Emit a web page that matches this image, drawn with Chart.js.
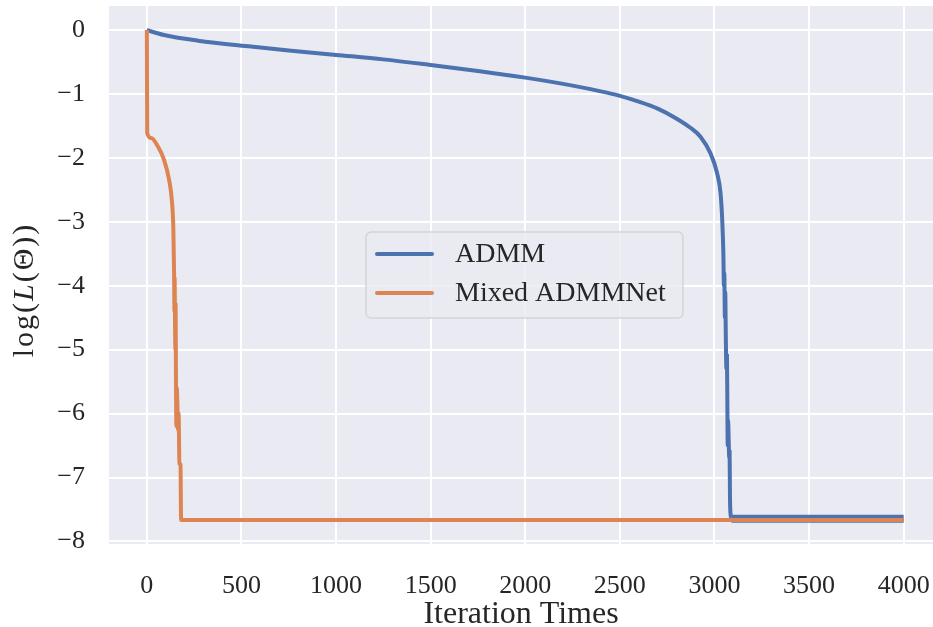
<!DOCTYPE html>
<html>
<head>
<meta charset="utf-8">
<script src="https://cdn.jsdelivr.net/npm/chart.js@4/dist/chart.umd.min.js"></script>
<style>
  html, body { margin: 0; padding: 0; background: #fff; }
  #wrap { width: 933px; height: 627px; }
</style>
</head>
<body>
<div id="wrap"><canvas id="chart"></canvas></div>
<script>
const seriesNames = ['ADMM', 'Mixed ADMMNet'];
const seriesColors = ['#4c72b0', '#dd8452'];

// ADMM: iteration, log loss
const admmIter = [0, 20, 90, 270, 550, 750, 1000, 1250, 1500, 1750, 2000, 2250, 2400, 2500, 2600, 2700, 2796, 2873, 2926, 2979, 3014, 3032, 3041, 3047, 3050, 3052, 3055, 3057, 3060, 3063, 3066, 3068, 3070, 3072, 3075, 3078, 3080, 3082, 3086, 3090, 4000];
const admmLoss = [0, -0.02, -0.078, -0.167, -0.26, -0.32, -0.39, -0.46, -0.547, -0.64, -0.745, -0.87, -0.96, -1.03, -1.12, -1.23, -1.38, -1.53, -1.67, -1.93, -2.24, -2.55, -2.97, -3.49, -4.0, -3.8, -4.5, -4.1, -4.8, -5.3, -5.1, -5.8, -6.5, -6.1, -6.4, -6.7, -6.6, -7.3, -7.6, -7.645, -7.645];

// Mixed ADMMNet
const netIter = [0, 2, 23, 58, 91, 118, 132, 140, 144, 146, 147, 149, 151, 152, 154, 156, 158, 162, 165, 168, 172, 178, 181, 4000];
const netLoss = [0, -1.61, -1.69, -1.82, -2.03, -2.35, -2.66, -3.1, -3.8, -4.4, -3.9, -4.6, -5.0, -4.3, -5.5, -6.2, -5.6, -5.9, -6.25, -6.0, -6.78, -6.8, -7.665, -7.665];

const xTicks = [0, 500, 1000, 1500, 2000, 2500, 3000, 3500, 4000];
const yTicks = [0, -1, -2, -3, -4, -5, -6, -7, -8];

const FONT = '"Liberation Serif", "DejaVu Serif", serif';
const INK = '#262626';

const toPts = (xs, ys) => xs.map((x, i) => ({ x, y: ys[i] }));

const plotBg = {
  id: 'plotBg',
  beforeDraw(chart) {
    const { ctx, chartArea: a } = chart;
    ctx.save();
    ctx.fillStyle = '#eaeaf2';
    ctx.fillRect(a.left, a.top, a.right - a.left, a.bottom - a.top);
    ctx.restore();
  }
};

// y title with italic L, drawn rotated at the left edge
const yTitle = {
  id: 'yTitle',
  afterDraw(chart) {
    const ctx = chart.ctx;
    const parts = [['log(', ''], ['L', 'italic '], ['(\u0398))', '']];
    ctx.save();
    ctx.translate(25, 290);
    ctx.rotate(-Math.PI / 2);
    ctx.fillStyle = INK;
    ctx.textBaseline = 'middle';
    ctx.letterSpacing = '2px';
    let total = 0;
    parts.forEach(([t, st]) => { ctx.font = st + '30px ' + FONT; total += ctx.measureText(t).width; });
    let x = -total / 2;
    parts.forEach(([t, st]) => {
      ctx.font = st + '30px ' + FONT;
      ctx.fillText(t, x, 0);
      x += ctx.measureText(t).width;
    });
    ctx.restore();
  }
};

const boxLegend = {
  id: 'boxLegend',
  afterDatasetsDraw(chart) {
    const ctx = chart.ctx;
    const x = 366, y = 232, w = 317, h = 86, r = 5;
    ctx.save();
    ctx.beginPath();
    ctx.roundRect(x, y, w, h, r);
    ctx.fillStyle = 'rgba(234,234,242,0.8)';
    ctx.fill();
    ctx.strokeStyle = '#d3d3d8';
    ctx.lineWidth = 1.5;
    ctx.stroke();
    ctx.font = '28px ' + FONT;
    ctx.textBaseline = 'middle';
    chart.data.datasets.forEach((ds, i) => {
      const ly = 254 + i * 39;
      ctx.beginPath();
      ctx.moveTo(377, ly);
      ctx.lineTo(432, ly);
      ctx.strokeStyle = ds.borderColor;
      ctx.lineWidth = 4;
      ctx.lineCap = 'round';
      ctx.stroke();
      ctx.fillStyle = INK;
      ctx.fillText(ds.label, 455, ly + 1);
    });
    ctx.restore();
  }
};

new Chart(document.getElementById('chart'), {
  type: 'line',
  data: {
    datasets: [
      {
        label: seriesNames[0],
        data: toPts(admmIter, admmLoss),
        borderColor: seriesColors[0],
        borderWidth: 4,
        pointRadius: 0,
        order: 1,
        cubicInterpolationMode: 'monotone',
        segment: { borderWidth: c => c.p0.parsed.x >= 3090 ? 8 : undefined }
      },
      {
        label: seriesNames[1],
        data: toPts(netIter, netLoss),
        borderColor: seriesColors[1],
        borderWidth: 4,
        pointRadius: 0,
        order: 0,
        cubicInterpolationMode: 'monotone'
      }
    ]
  },
  options: {
    responsive: true,
    maintainAspectRatio: false,
    animation: false,
    layout: { padding: { top: 6, right: 0, left: 0, bottom: 0 } },
    plugins: {
      legend: { display: false },
      tooltip: { enabled: false }
    },
    scales: {
      x: {
        type: 'linear',
        min: -200,
        max: 4155,
        afterBuildTicks: s => { s.ticks = xTicks.map(v => ({ value: v })); },
        afterFit: s => { s.height = 83; s.paddingLeft = 0; s.paddingRight = 0; },
        ticks: {
          color: INK,
          padding: 27,
          font: { family: FONT, size: 26 },
          callback: v => String(v)
        },
        grid: { color: '#ffffff', lineWidth: 2, drawTicks: false },
        border: { display: false },
        title: {
          display: true,
          text: 'Iteration Times',
          color: INK,
          font: { family: FONT, size: 32, lineHeight: 0.8 },
          padding: 0
        }
      },
      y: {
        min: -8.04,
        max: 0.375,
        afterBuildTicks: s => { s.ticks = yTicks.map(v => ({ value: v })); },
        afterFit: s => { s.width = 109; s.paddingTop = 0; s.paddingBottom = 0; },
        ticks: {
          color: INK,
          padding: 24,
          font: { family: FONT, size: 26 },
          callback: v => v < 0 ? '\u2212' + Math.abs(v) : String(v)
        },
        grid: { color: '#ffffff', lineWidth: 2, drawTicks: false },
        border: { display: false },
        title: { display: false }
      }
    }
  },
  plugins: [plotBg, boxLegend, yTitle]
});
</script>
</body>
</html>
